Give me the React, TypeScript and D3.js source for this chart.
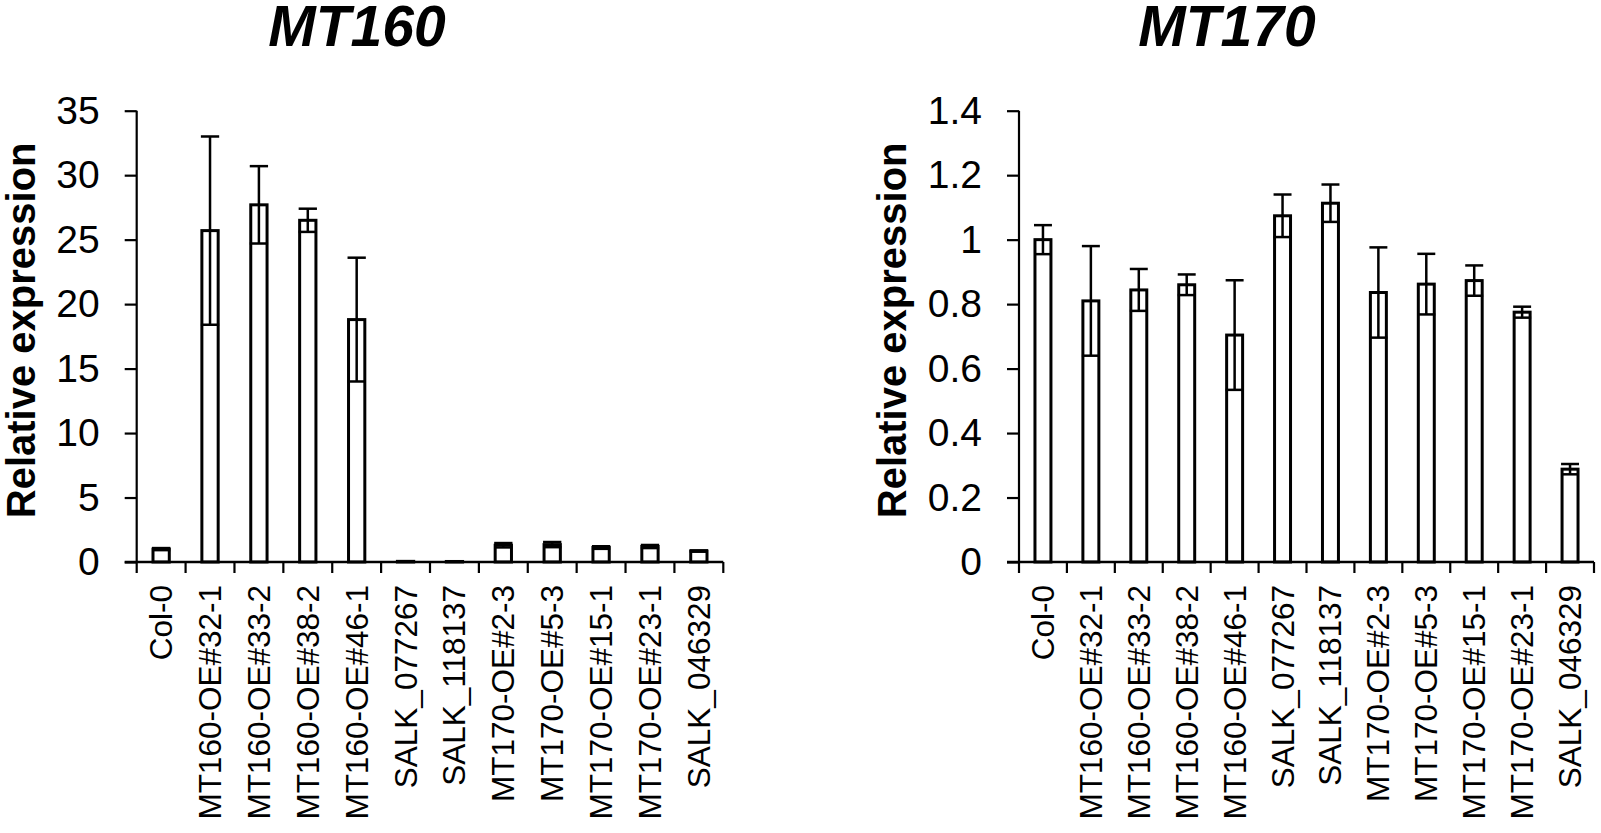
import React, {useRef, useEffect} from "react";
import * as d3 from "d3";

const categories = [
  "Col-0",
  "MT160-OE#32-1",
  "MT160-OE#33-2",
  "MT160-OE#38-2",
  "MT160-OE#46-1",
  "SALK_077267",
  "SALK_118137",
  "MT170-OE#2-3",
  "MT170-OE#5-3",
  "MT170-OE#15-1",
  "MT170-OE#23-1",
  "SALK_046329",
];

const mt160Values = [1.0, 25.7, 27.7, 26.5, 18.8, 0.05, 0.04, 1.3, 1.35, 1.12, 1.2, 0.85];
const mt160Errors = [0.08, 7.3, 3.0, 0.9, 4.8, 0.01, 0.01, 0.17, 0.2, 0.1, 0.12, 0.05];
const mt160Ticks = [0, 5, 10, 15, 20, 25, 30, 35];

const mt170Values = [1.0, 0.81, 0.844, 0.86, 0.704, 1.074, 1.113, 0.836, 0.862, 0.873, 0.775, 0.288];
const mt170Errors = [0.045, 0.17, 0.065, 0.032, 0.17, 0.066, 0.058, 0.14, 0.094, 0.047, 0.017, 0.016];
const mt170Ticks = [0, 0.2, 0.4, 0.6, 0.8, 1, 1.2, 1.4];

const FONT = "Arial, 'Liberation Sans', Helvetica, sans-serif";

type Panel = {
  title: string;
  values: number[];
  errors: number[];
  ticks: number[];
  x0: number;
  x1: number;
  titleX: number;
  labelX: number;
};

const panels: Panel[] = [
  {title: "MT160", values: mt160Values, errors: mt160Errors, ticks: mt160Ticks, x0: 136.7, x1: 723.3, titleX: 357, labelX: 35},
  {title: "MT170", values: mt170Values, errors: mt170Errors, ticks: mt170Ticks, x0: 1019, x1: 1594, titleX: 1227, labelX: 906},
];

export default function App() {
  const svgRef = useRef<SVGSVGElement>(null);

  useEffect(() => {
    if (!svgRef.current) return;
    const svg = d3.select(svgRef.current);
    svg.selectAll("*").remove();

    const top = 110.7;
    const bottom = 562;

    panels.forEach((p) => {
      const g = svg.append("g");
      const x = d3
        .scaleBand()
        .domain(categories)
        .range([p.x0, p.x1])
        .paddingInner(2 / 3)
        .paddingOuter(1 / 3);
      const y = d3
        .scaleLinear()
        .domain([0, p.ticks[p.ticks.length - 1]])
        .range([bottom, top]);

      // Title
      g.append("text")
        .attr("x", p.titleX)
        .attr("y", 46)
        .attr("text-anchor", "middle")
        .style("font-family", FONT)
        .style("font-size", "57px")
        .style("font-weight", "bold")
        .style("font-style", "italic")
        .text(p.title);

      // Y axis label
      g.append("text")
        .attr("transform", `translate(${p.labelX},${(top + bottom) / 2 - 6}) rotate(-90)`)
        .attr("text-anchor", "middle")
        .style("font-family", FONT)
        .style("font-size", "40px")
        .style("font-weight", "bold")
        .text("Relative expression");

      // Bars
      g.selectAll(".bar")
        .data(p.values)
        .join("rect")
        .attr("class", "bar")
        .attr("x", (d, i) => x(categories[i]))
        .attr("y", (d) => y(d))
        .attr("width", x.bandwidth())
        .attr("height", (d) => bottom - y(d))
        .attr("fill", "#fff")
        .attr("stroke", "#000")
        .attr("stroke-width", 3);

      // Error bars (up and down)
      const cap = x.bandwidth() / 2 + 1;
      const eb = g.selectAll(".err").data(p.values).join("g").attr("class", "err");
      eb.append("line")
        .attr("x1", (d, i) => x(categories[i]) + x.bandwidth() / 2)
        .attr("x2", (d, i) => x(categories[i]) + x.bandwidth() / 2)
        .attr("y1", (d, i) => y(d + p.errors[i]))
        .attr("y2", (d, i) => y(Math.max(0, d - p.errors[i])))
        .attr("stroke", "#000")
        .attr("stroke-width", 2.5);
      [1, -1].forEach((s) => {
        eb.append("line")
          .attr("x1", (d, i) => x(categories[i]) + x.bandwidth() / 2 - cap)
          .attr("x2", (d, i) => x(categories[i]) + x.bandwidth() / 2 + cap)
          .attr("y1", (d, i) => y(Math.max(0, d + s * p.errors[i])))
          .attr("y2", (d, i) => y(Math.max(0, d + s * p.errors[i])))
          .attr("stroke", "#000")
          .attr("stroke-width", 2.5);
      });

      // Y axis
      const yAxis = g
        .append("g")
        .attr("transform", `translate(${p.x0},0)`)
        .call(d3.axisLeft(y).tickValues(p.ticks).tickSize(12).tickPadding(25).tickFormat(d3.format("~g")));
      yAxis.select(".domain").attr("d", `M0,${top}V${bottom}`).attr("stroke", "#000").attr("stroke-width", 2.2);
      yAxis.selectAll(".tick line").attr("stroke", "#000").attr("stroke-width", 2.2);
      yAxis
        .selectAll("text")
        .attr("fill", "#000")
        .style("font-family", FONT)
        .style("font-size", "39px");

      // X axis: ticks at band boundaries
      const step = x.step();
      const bounds = d3.range(categories.length + 1).map((i) => p.x0 + i * step);
      g.append("line")
        .attr("x1", p.x0 - 12)
        .attr("x2", p.x1)
        .attr("y1", bottom)
        .attr("y2", bottom)
        .attr("stroke", "#000")
        .attr("stroke-width", 2.5);
      g.selectAll(".xtick")
        .data(bounds)
        .join("line")
        .attr("class", "xtick")
        .attr("x1", (d) => d)
        .attr("x2", (d) => d)
        .attr("y1", bottom)
        .attr("y2", bottom + 11)
        .attr("stroke", "#000")
        .attr("stroke-width", 2.2);

      g.selectAll(".xlabel")
        .data(categories)
        .join("text")
        .attr("class", "xlabel")
        .attr("transform", (d) => `translate(${x(d) + x.bandwidth() / 2},585) rotate(-90)`)
        .attr("text-anchor", "end")
        .attr("dy", "0.35em")
        .style("font-family", FONT)
        .style("font-size", "31.5px")
        .text((d) => d);
    });

    return () => {
      d3.select(svgRef.current).selectAll("*").remove();
    };
  }, []);

  return (
    <div style={{position: "absolute", left: 0, top: 0, background: "#fff"}}>
      <svg ref={svgRef} width={1601} height={833} />
    </div>
  );
}
